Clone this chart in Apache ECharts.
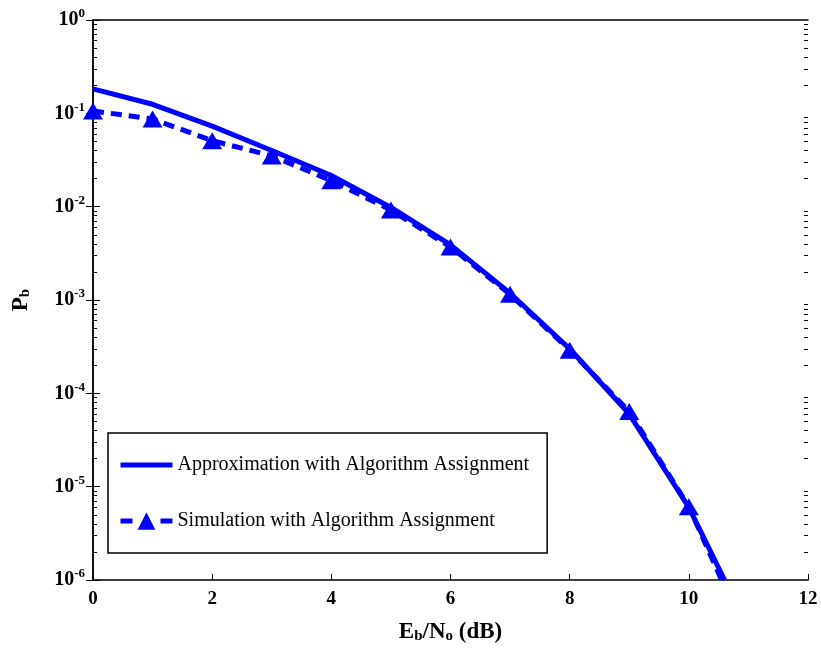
<!DOCTYPE html>
<html><head><meta charset="utf-8">
<script src="https://cdn.jsdelivr.net/npm/echarts@6/dist/echarts.min.js"></script>
<style>html,body{margin:0;padding:0;background:#fff}#c{width:821px;height:649px}</style>
</head><body><div id="c"></div>
<script>
var xValues = [0, 1, 2, 3, 4, 5, 6, 7, 8, 9, 10];
var approxValues = [0.183, 0.125, 0.073, 0.040, 0.0216, 0.0098, 0.0039, 0.00118, 0.00030, 0.000060, 0.0000060];
var approxEnd = [10.6, 1e-6];
var simValues = [0.106, 0.087, 0.051, 0.035, 0.019, 0.0092, 0.0037, 0.00115, 0.00029, 0.000064, 0.0000061];
var simEnd = [10.55, 1e-6];
var seriesNames = ['Approximation with Algorithm Assignment', 'Simulation with Algorithm Assignment'];
var minorTickValues = [];
for (var e = -6; e < 0; e++) { for (var k = 2; k <= 9; k++) { minorTickValues.push(k * Math.pow(10, e)); } }

var approxData = xValues.map(function (x, i) { return [x, approxValues[i]]; });
approxData.push(approxEnd);
var simData = xValues.map(function (x, i) { return [x, simValues[i]]; });
simData.push({ value: simEnd, symbol: 'none' });

var font = 'Liberation Serif';
var chart = echarts.init(document.getElementById('c'));
var baseY = {
  type: 'log', min: 1e-6, max: 1, logBase: 10,
  splitLine: { show: false }
};
chart.setOption({
  animation: false,
  backgroundColor: '#fff',
  grid: { left: 93, right: 13, top: 20, bottom: 66 },
  legend: {
    left: 108, top: 433, orient: 'vertical',
    backgroundColor: '#fff', borderColor: '#000', borderWidth: 1.5, borderRadius: 0,
    padding: [21, 18, 21, 10], itemGap: 34, itemWidth: 52, itemHeight: 22,
    textStyle: { fontFamily: font, fontSize: 20, color: '#000', lineHeight: 22 },
    data: [
      { name: seriesNames[0], itemStyle: { opacity: 0 }, lineStyle: { width: 5, color: '#0000ff', type: 'solid' } },
      { name: seriesNames[1], lineStyle: { width: 5, color: '#0000ff', type: [12, 28] } }
    ]
  },
  xAxis: [{
    type: 'value', min: 0, max: 12, interval: 2, position: 'bottom',
    axisLine: { lineStyle: { color: '#000', width: 1.5 } },
    axisTick: { inside: true, length: 6, lineStyle: { color: '#000' } },
    axisLabel: { fontFamily: font, fontWeight: 'bold', fontSize: 19, color: '#000', margin: 10 },
    splitLine: { show: false },
    name: 'E{sub|b}/N{sub|o} (dB)', nameLocation: 'middle', nameGap: 40,
    nameTextStyle: { fontFamily: font, fontWeight: 'bold', fontSize: 23, color: '#000',
      rich: { sub: { fontFamily: font, fontWeight: 'bold', fontSize: 15, color: '#000', padding: [9, 0, 0, 0] } } }
  }, {
    type: 'value', min: 0, max: 12, interval: 2, position: 'top',
    axisLine: { lineStyle: { color: '#000', width: 1.5 } },
    axisTick: { show: false },
    axisLabel: { show: false }, splitLine: { show: false }
  }],
  yAxis: [Object.assign({}, baseY, {
    position: 'left',
    axisLine: { show: true, lineStyle: { color: '#000', width: 1.5 } },
    axisTick: { inside: true, length: 7, lineStyle: { color: '#000' } },
    axisLabel: {
      margin: 8,
      formatter: function (v) { return '{b|10}{s|' + Math.round(Math.log10(v)) + '}'; },
      rich: {
        b: { fontFamily: font, fontWeight: 'bold', fontSize: 20, color: '#000' },
        s: { fontFamily: font, fontWeight: 'bold', fontSize: 13, color: '#000', padding: [0, 0, 12, 0] }
      }
    },
    name: 'P{sub|b}', nameLocation: 'middle', nameGap: 60, nameRotate: 90,
    nameTextStyle: { fontFamily: font, fontWeight: 'bold', fontSize: 23, color: '#000',
      rich: { sub: { fontFamily: font, fontWeight: 'bold', fontSize: 15, color: '#000', padding: [9, 0, 0, 0] } } }
  }), Object.assign({}, baseY, {
    position: 'right',
    axisLine: { show: true, lineStyle: { color: '#000', width: 1.5 } },
    axisTick: { inside: true, length: 7, lineStyle: { color: '#000' } },
    axisLabel: { show: false }
  }), Object.assign({}, baseY, {
    position: 'left',
    axisLine: { show: false },
    axisTick: { inside: true, length: 4, customValues: minorTickValues, lineStyle: { color: '#000' } },
    axisLabel: { show: false }
  }), Object.assign({}, baseY, {
    position: 'right',
    axisLine: { show: false },
    axisTick: { inside: true, length: 4, customValues: minorTickValues, lineStyle: { color: '#000' } },
    axisLabel: { show: false }
  })],
  series: [{
    name: seriesNames[0], type: 'line', data: approxData,
    showSymbol: false, symbol: 'none', color: '#0000ff',
    lineStyle: { color: '#0000ff', width: 5 }, z: 3
  }, {
    name: seriesNames[1], type: 'line', data: simData,
    symbol: 'triangle', symbolSize: [20, 17], color: '#0000ff',
    itemStyle: { color: '#0000ff' },
    lineStyle: { color: '#0000ff', width: 5, type: [11, 7] }, z: 2
  }]
});
</script></body></html>
